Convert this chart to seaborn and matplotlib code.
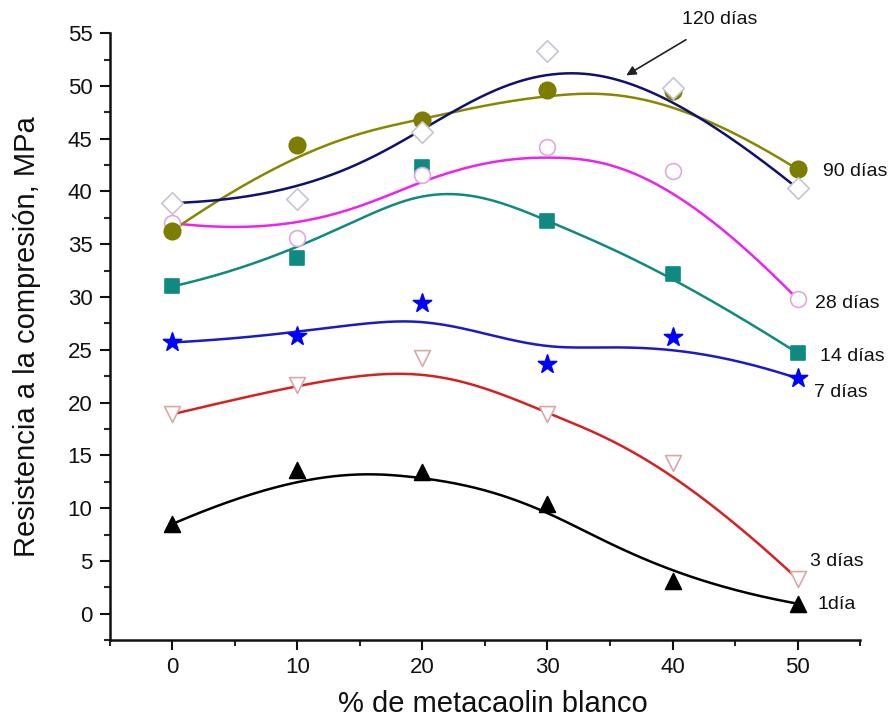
import numpy as np
import pandas as pd
import matplotlib
matplotlib.use("Agg")
import matplotlib.pyplot as plt
from matplotlib.ticker import MultipleLocator
import seaborn as sns

# ---- data ----
metacaolin = [0, 10, 20, 30, 40, 50]
dia_1 = [8.5, 13.6, 13.4, 10.4, 3.1, 0.95]
dias_3 = [18.9, 21.7, 24.2, 18.9, 14.3, 3.3]
dias_7 = [25.7, 26.3, 29.4, 23.7, 26.2, 22.3]
dias_14 = [31.0, 33.7, 42.3, 37.2, 32.2, 24.7]
dias_28 = [37.0, 35.6, 41.6, 44.2, 41.9, 29.8]
dias_90 = [36.3, 44.4, 46.8, 49.6, 49.5, 42.1]
dias_120 = [38.9, 39.3, 45.6, 53.3, 49.8, 40.3]
series_names = ["1día", "3 días", "7 días", "14 días", "28 días", "90 días", "120 días"]
x_label = "% de metacaolin blanco"
y_label = "Resistencia a la compresión, MPa"

sns.set_theme(style="white")
plt.rcParams['font.family'] = ['Liberation Sans', 'DejaVu Sans']

values = [dia_1, dias_3, dias_7, dias_14, dias_28, dias_90, dias_120]
line_colors = ["#000000", "#d82020", "#1a1ac8", "#0e8a80", "#ee22ee", "#878700", "#10106e"]
marker_face = ["#000000", "white", "#0000ff", "#0e8a80", "white", "#7d7d00", "white"]
marker_edge = ["#000000", "#d8a8a8", "#0000ff", "#0e8a80", "#e0a8e0", "#7d7d00", "#c8c4d4"]
markers = ["^", "v", "*", "s", "o", "o", "D"]
msizes = [130, 130, 190, 110, 130, 140, 120]


def bspline(px, py, n=300):
    """Clamped cubic B-spline using data points as control points."""
    px = np.asarray(px, float)
    py = np.asarray(py, float)
    m = len(px)
    k = 3
    knots = np.concatenate([np.zeros(k), np.arange(m - k + 1), np.full(k, m - k)]).astype(float)
    t = np.linspace(0, m - k, n)
    t[-1] -= 1e-9

    def basis(i, d, tt):
        if d == 0:
            return ((knots[i] <= tt) & (tt < knots[i + 1])).astype(float)
        out = np.zeros_like(tt)
        den1 = knots[i + d] - knots[i]
        den2 = knots[i + d + 1] - knots[i + 1]
        if den1 > 0:
            out += (tt - knots[i]) / den1 * basis(i, d - 1, tt)
        if den2 > 0:
            out += (knots[i + d + 1] - tt) / den2 * basis(i + 1, d - 1, tt)
        return out

    B = np.array([basis(i, k, t) for i in range(m)])
    return B.T @ px, B.T @ py


fig = plt.figure(figsize=(8.89, 7.2), dpi=100)
ax = fig.add_axes([0.1237, 0.111, 0.8437, 0.843])

for i, (name, vals) in enumerate(zip(series_names, values)):
    cx, cy = bspline(metacaolin, vals)
    curve = pd.DataFrame({"x": cx, "y": cy})
    sns.lineplot(data=curve, x="x", y="y", ax=ax, color=line_colors[i], lw=1.8,
                 sort=False, estimator=None, zorder=2 + i * 0.01)

for i, (name, vals) in enumerate(zip(series_names, values)):
    pts = pd.DataFrame({"x": metacaolin, "y": vals})
    sns.scatterplot(data=pts, x="x", y="y", ax=ax, marker=markers[i], s=msizes[i],
                    color=marker_face[i], edgecolor=marker_edge[i], linewidth=1.2,
                    zorder=3 + i * 0.1, clip_on=False)

ax.set_xlim(-5, 55)
ax.set_ylim(-2.5, 55)
ax.xaxis.set_major_locator(MultipleLocator(10))
ax.xaxis.set_minor_locator(MultipleLocator(5))
ax.yaxis.set_major_locator(MultipleLocator(5))
ax.yaxis.set_minor_locator(MultipleLocator(2.5))
ax.set_xticks([0, 10, 20, 30, 40, 50])
ax.set_yticks(np.arange(0, 56, 5))
ax.tick_params(axis="both", which="major", direction="out", length=7.5, width=1.5,
               labelsize=16, colors="#111111", bottom=True, left=True, pad=5)
ax.tick_params(axis="both", which="minor", direction="out", length=4.5, width=1.5,
               bottom=True, left=True)
for s in ["top", "right"]:
    ax.spines[s].set_visible(False)
for s in ["left", "bottom"]:
    ax.spines[s].set_linewidth(1.8)
    ax.spines[s].set_color("#111111")

ax.set_xlabel(x_label, fontsize=21, color="#111111")
ax.set_ylabel(y_label, fontsize=21, color="#111111")
ax.xaxis.set_label_coords(0.511, -0.082)
ax.yaxis.set_label_coords(-0.092, 0.5)

# series labels
lab_pos = {"1día": (51.6, 0.9), "3 días": (51.0, 4.9), "7 días": (51.3, 21.0),
           "14 días": (51.8, 24.4), "28 días": (51.4, 29.4), "90 días": (52.0, 41.9)}
for name, (lx, ly) in lab_pos.items():
    ax.text(lx, ly, name, fontsize=14, ha="left", va="center", color="#111111", clip_on=False)

ax.annotate("120 días", xy=(36.3, 51.0), xytext=(43.8, 56.3), fontsize=14, ha="center",
            va="center", color="#111111", annotation_clip=False,
            arrowprops=dict(arrowstyle="-|>", color="#222222", lw=1.2, mutation_scale=14,
                            shrinkA=12, shrinkB=0))

fig.savefig("out.png", dpi=100)
